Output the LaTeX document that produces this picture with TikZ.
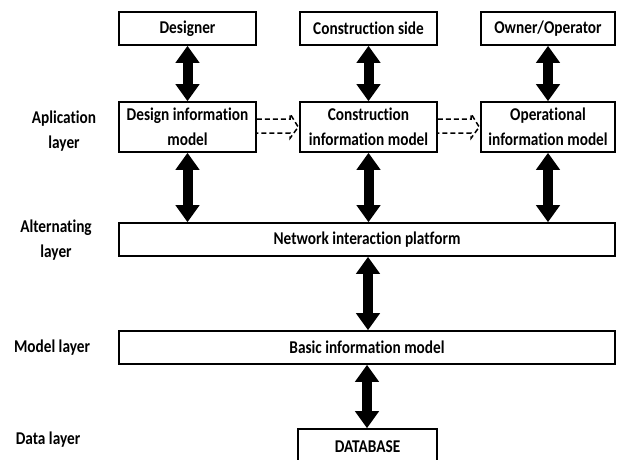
\documentclass[tikz,border=0pt]{standalone}
\usepackage{fontspec}
\setmainfont{Carlito}[FakeStretch=0.85, Ligatures={NoCommon}]
\usetikzlibrary{arrows.meta}
\tikzset{
  box/.style={draw, line width=1.6pt, inner sep=0pt, align=center,
    font=\fontsize{18}{25}\selectfont\bfseries},
  lbl/.style={inner sep=0pt, align=center,
    font=\fontsize{18}{25}\selectfont\bfseries},
  bigarrow/.style={line width=10pt,
    {Triangle[length=17pt,width=23pt]}-{Triangle[length=17pt,width=23pt]}},
  dasharrow/.style={line width=1.5pt, dash pattern=on 5pt off 3pt}
}
\begin{document}
\begin{tikzpicture}[x=1pt,y=-1pt]
\useasboundingbox (0,0) rectangle (618,459);
% top row
\node[box, minimum width=137pt, minimum height=33pt] (des) at (187.5,28.5) {Designer};
\node[box, minimum width=137pt, minimum height=33pt] (con) at (368.5,28.5) {Construction side};
\node[box, minimum width=134pt, minimum height=33pt] (own) at (548,28.5) {Owner/Operator};
% application layer
\node[box, minimum width=137pt, minimum height=50pt] (dim) at (187.5,127) {Design information\\model};
\node[box, minimum width=137pt, minimum height=50pt] (cim) at (368.5,127) {Construction\\information model};
\node[box, minimum width=134pt, minimum height=50pt] (oim) at (548,127) {Operational\\information model};
% platform, model, database
\node[box, minimum width=496pt, minimum height=33pt] (net) at (367,239.5) {Network interaction platform};
\node[box, minimum width=496pt, minimum height=33pt] (bas) at (367,347.5) {Basic information model};
\node[box, minimum width=139pt, minimum height=36pt] (db) at (367.5,447) {DATABASE};
% layer labels
\node[lbl] (l1) at (64,131) {Aplication\\layer};
\node[lbl] (l2) at (56,240.5) {Alternating\\layer};
\node[lbl] (l3) at (52,348) {Model layer};
\node[lbl] (l4) at (48,440) {Data layer};
% big double arrows
\draw[bigarrow] (des.south) -- (dim.north);
\draw[bigarrow] (con.south) -- (cim.north);
\draw[bigarrow] (own.south) -- (oim.north);
\draw[bigarrow] (dim.south) -- (dim.south |- net.north);
\draw[bigarrow] (cim.south) -- (cim.south |- net.north);
\draw[bigarrow] (oim.south) -- (oim.south |- net.north);
\draw[bigarrow] ([xshift=1pt]net.south) -- ([xshift=1pt]bas.north);
\draw[bigarrow] (bas.south) -- (bas.south |- db.north);
% dashed hollow arrows
\draw[dasharrow] ([yshift=8pt]dim.east) -- ([xshift=-9pt,yshift=8pt]cim.west)
  -- ([xshift=-9pt,yshift=13pt]cim.west) -- ([xshift=-1pt]cim.west)
  -- ([xshift=-9pt,yshift=-11pt]cim.west) -- ([xshift=-9pt,yshift=-6pt]cim.west)
  -- ([yshift=-6pt]dim.east);
\draw[dasharrow] ([yshift=8pt]cim.east) -- ([xshift=-9pt,yshift=8pt]oim.west)
  -- ([xshift=-9pt,yshift=13pt]oim.west) -- ([xshift=-1pt]oim.west)
  -- ([xshift=-9pt,yshift=-11pt]oim.west) -- ([xshift=-9pt,yshift=-6pt]oim.west)
  -- ([yshift=-6pt]cim.east);
\end{tikzpicture}
\end{document}
